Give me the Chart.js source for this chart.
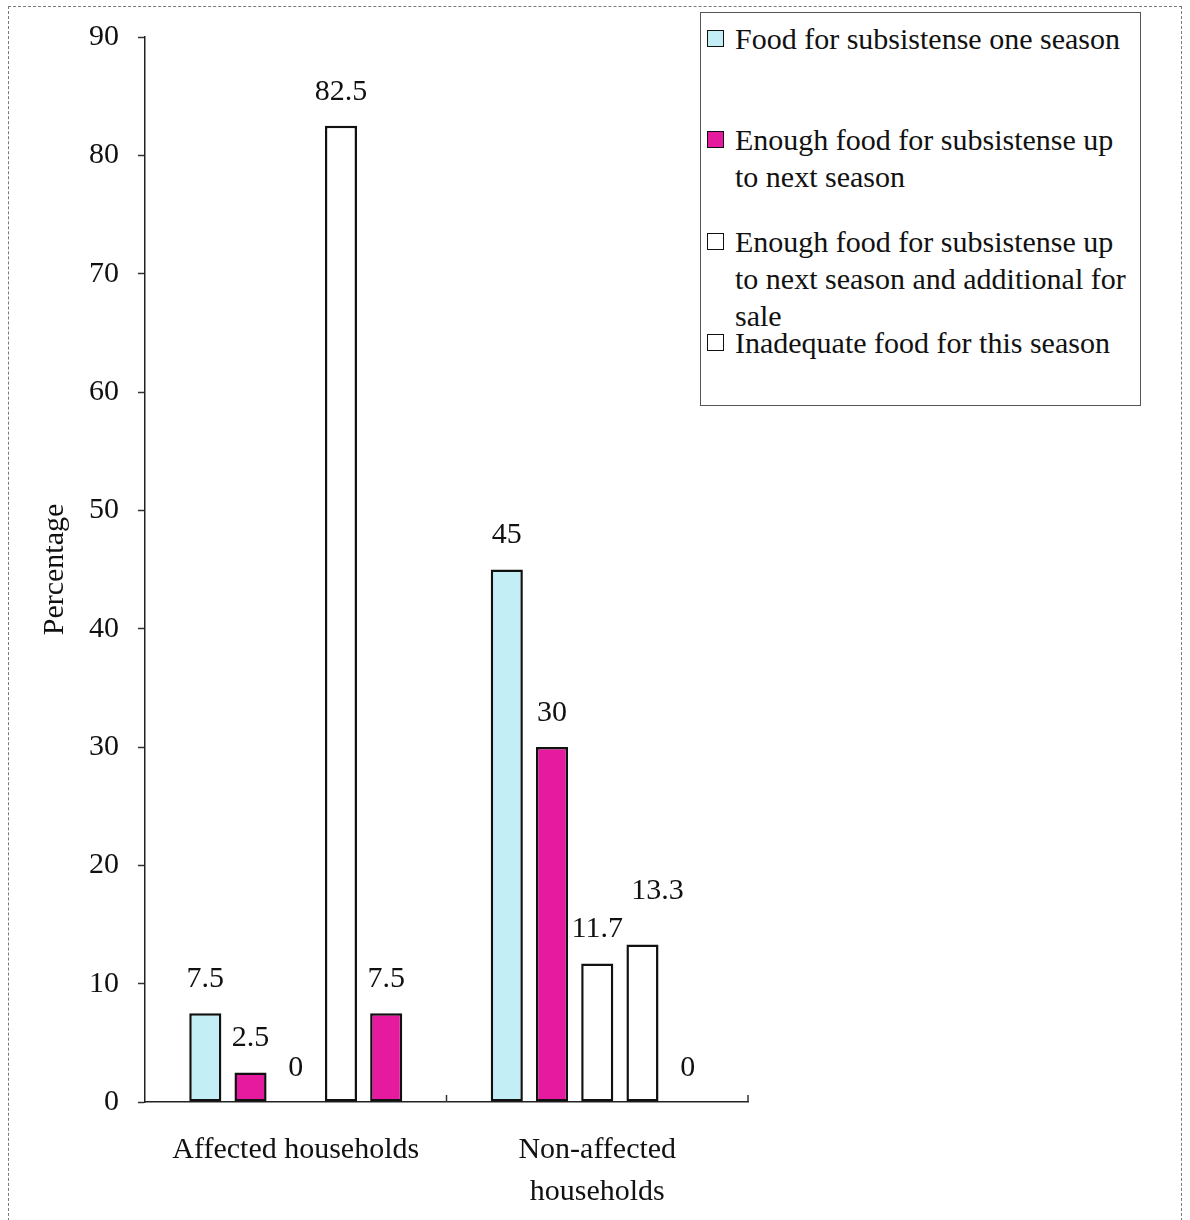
<!DOCTYPE html>
<html>
<head>
<meta charset="utf-8">
<script src="https://cdn.jsdelivr.net/npm/chart.js@4/dist/chart.umd.min.js"></script>
<style>
  html, body { margin: 0; padding: 0; background: #fff; }
  #wrap { position: relative; width: 1190px; height: 1220px; overflow: hidden; }
  #frame { position: absolute; left: 8px; top: 6px; width: 1174px; height: 1230px; border: 1px dashed #7a7a7a; box-sizing: border-box; pointer-events: none; }
  #legend { position: absolute; left: 700px; top: 12px; width: 441px; height: 394px; border: 1.5px solid #555; box-sizing: border-box; background: #fff; font-family: 'Liberation Serif', 'Times New Roman', serif; font-size: 30px; color: #111; }
  .item { position: absolute; left: 0; width: 440px; line-height: 37px; }
  .mark { position: absolute; left: 6px; top: 10px; width: 17px; height: 17px; border: 1.5px solid #111; box-sizing: border-box; }
  .txt { position: absolute; left: 34px; top: 0; width: 400px; white-space: nowrap; }
</style>
</head>
<body>
<div id="wrap">
  <canvas id="c" width="1190" height="1220"></canvas>
  <div id="frame"></div>
  <div id="legend"></div>
</div>
<script>
// ---- data ----
const categories = ['Affected households', ['Non-affected', 'households']];
const foodOneSeason = [7.5, 45];
const enoughNextSeason = [2.5, 30];
const enoughNextSeasonAndSale = [0, 11.7];
const inadequateThisSeason = [82.5, 13.3];
const unlabelledSeries = [7.5, 0];

const seriesNames = [
  ['Food for subsistense one season'],
  ['Enough food for subsistense up', 'to next season'],
  ['Enough food for subsistense up', 'to next season and additional for', 'sale'],
  ['Inadequate food for this season']
];
const yTicks = [0, 10, 20, 30, 40, 50, 60, 70, 80, 90];

// ---- styles ----
const CYAN = '#c3eef6';
const MAGENTA = '#e61a9f';
const WHITE = '#ffffff';
const FONT = "'Liberation Serif', 'Times New Roman', serif";

// legend (HTML)
const legendColors = [CYAN, MAGENTA, WHITE, WHITE];
const legendTops = [6.5, 107.5, 209.5, 310.5];
const legendEl = document.getElementById('legend');
seriesNames.forEach((lines, i) => {
  const d = document.createElement('div');
  d.className = 'item';
  d.style.top = legendTops[i] + 'px';
  const m = document.createElement('div');
  m.className = 'mark';
  m.style.background = legendColors[i];
  const t = document.createElement('div');
  t.className = 'txt';
  t.innerHTML = lines.join('<br>');
  d.appendChild(m); d.appendChild(t);
  legendEl.appendChild(d);
});

// value labels above bars
const labelNudge = { '3:1': [15, -19] };
const valueLabels = {
  id: 'valueLabels',
  afterDatasetsDraw(chart) {
    const ctx = chart.ctx;
    ctx.save();
    ctx.font = '30px ' + FONT;
    ctx.fillStyle = '#111';
    ctx.textAlign = 'center';
    ctx.textBaseline = 'middle';
    chart.data.datasets.forEach((ds, di) => {
      const meta = chart.getDatasetMeta(di);
      meta.data.forEach((el, i) => {
        const v = ds.data[i];
        const n = labelNudge[di + ':' + i] || [0, 0];
        ctx.fillText(String(v), el.x + n[0], el.y - 34 + n[1]);
      });
    });
    ctx.restore();
  }
};

// inside tick marks on the category axis
const catTicks = {
  id: 'catTicks',
  afterDraw(chart) {
    const xs = chart.scales.x;
    const ctx = chart.ctx;
    const n = chart.data.labels.length;
    ctx.save();
    ctx.strokeStyle = '#333';
    ctx.lineWidth = 1.5;
    for (let i = 1; i <= n; i++) {
      const x = xs.left + i * (xs.right - xs.left) / n;
      ctx.beginPath();
      ctx.moveTo(x, xs.top);
      ctx.lineTo(x, xs.top - 7);
      ctx.stroke();
    }
    ctx.restore();
  }
};

const common = { borderColor: '#111', borderWidth: 2.5, categoryPercentage: 0.75, barPercentage: 0.71, borderSkipped: false };

new Chart(document.getElementById('c'), {
  type: 'bar',
  data: {
    labels: categories,
    datasets: [
      Object.assign({ label: seriesNames[0].join(' '), data: foodOneSeason, backgroundColor: CYAN }, common),
      Object.assign({ label: seriesNames[1].join(' '), data: enoughNextSeason, backgroundColor: MAGENTA }, common),
      Object.assign({ label: seriesNames[2].join(' '), data: enoughNextSeasonAndSale, backgroundColor: WHITE }, common),
      Object.assign({ label: seriesNames[3].join(' '), data: inadequateThisSeason, backgroundColor: WHITE }, common),
      Object.assign({ label: '', data: unlabelledSeries, backgroundColor: MAGENTA }, common)
    ]
  },
  options: {
    responsive: false,
    devicePixelRatio: 1,
    animation: false,
    layout: { padding: { left: 0, right: 442, top: 37, bottom: 0 } },
    plugins: { legend: { display: false }, tooltip: { enabled: false } },
    scales: {
      x: {
        offset: true,
        grid: { display: true, drawOnChartArea: false, drawTicks: false },
        border: { display: true, color: '#222', width: 1.5 },
        ticks: { color: '#111', padding: 27, font: { family: FONT, size: 30, lineHeight: 1.4 }, maxRotation: 0 },
        afterFit(s) { s.height = 118; }
      },
      y: {
        min: 0, max: 90,
        afterBuildTicks(s) { s.ticks = yTicks.map(v => ({ value: v })); },
        grid: { display: true, drawOnChartArea: false, drawTicks: true, tickLength: 7, color: '#333', tickWidth: 1.5 },
        border: { display: true, color: '#222', width: 1.5 },
        ticks: { color: '#111', padding: 19, font: { family: FONT, size: 30 } },
        title: { display: true, text: 'Percentage', color: '#111', font: { family: FONT, size: 30 }, padding: { top: 37, bottom: 0 } },
        afterFit(s) { s.width = 145; }
      }
    }
  },
  plugins: [valueLabels, catTicks]
});
</script>
</body>
</html>
